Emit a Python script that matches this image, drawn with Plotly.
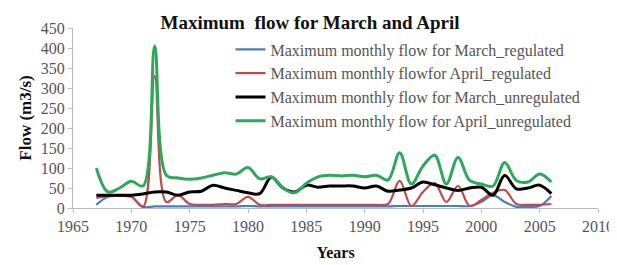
import plotly.graph_objects as go

years = list(range(1967, 2007))

march_regulated = [8, 28, 30, 28, 3, 4, 4, 4, 4, 4, 4, 4, 4, 5, 4, 4, 4, 4, 4, 4,
                   4, 4, 4, 4, 4, 4, 5, 5, 5, 5, 5, 5, 5, 15, 32, 15, 3, 3, 5, 30]
april_regulated = [25, 30, 30, 28, 3, 330, 15, 32, 10, 8, 8, 10, 10, 28, 8, 8, 8, 8, 8, 8,
                   8, 8, 8, 8, 8, 10, 68, 5, 40, 62, 15, 55, 5, 20, 38, 45, 10, 8, 8, 10]
march_unregulated = [32, 32, 32, 32, 35, 40, 40, 32, 40, 42, 57, 50, 44, 38, 36, 77, 50, 40, 57, 52,
                     55, 55, 55, 50, 55, 42, 45, 50, 65, 58, 50, 44, 50, 52, 32, 81, 48, 50, 57, 36]
april_unregulated = [100, 40, 50, 67, 55, 405, 82, 75, 72, 75, 82, 88, 85, 101, 73, 78, 50, 38, 62, 78,
                     82, 80, 82, 78, 82, 70, 138, 60, 105, 132, 60, 126, 69, 60, 55, 114, 69, 65, 85, 65]

series = [
    ("Maximum monthly flow for March_regulated", march_regulated, "#4a7ebb", 2.2),
    ("Maximum monthly flowfor April_regulated", april_regulated, "#be4b48", 2.2),
    ("Maximum monthly flow for March_unregulated", march_unregulated, "#000000", 3),
    ("Maximum monthly flow for April_unregulated", april_unregulated, "#2ea85a", 3),
]

fig = go.Figure()
for name, vals, color, w in series:
    fig.add_trace(go.Scatter(x=years, y=vals, mode="lines", name=name,
                             line=dict(color=color, width=w, shape="spline", smoothing=1.0)))

serif = "Liberation Serif, Times New Roman, serif"
fig.update_layout(
    width=609, height=257,
    margin=dict(l=65, r=19, t=17, b=57),
    paper_bgcolor="white", plot_bgcolor="white",
    font=dict(family=serif, size=16, color="#555555"),
    title=dict(text="<b>Maximum  flow for March and April</b>", x=0.496, xanchor="center",
               xref="container", y=0.945, yanchor="middle",
               font=dict(family=serif, size=19, color="#111111")),
    showlegend=True,
    legend=dict(x=0.30, y=0.975, xanchor="left", yanchor="top",
                bgcolor="rgba(0,0,0,0)", font=dict(family=serif, size=16, color="#555555"),
                tracegroupgap=0, itemwidth=30),
    xaxis=dict(range=[1965, 2010], dtick=5, tick0=1965, showgrid=False, zeroline=False,
               showline=True, linecolor="#bbbbbb", linewidth=1, ticks="outside",
               tickcolor="#bbbbbb", ticklen=4, automargin=False,
               title=dict(text="<b>Years</b>", font=dict(family=serif, size=16, color="#111111"),
                          standoff=12),
               tickfont=dict(family=serif, size=16, color="#555555")),
    yaxis=dict(range=[0, 450], dtick=50, showgrid=False, zeroline=False,
               showline=True, linecolor="#bbbbbb", linewidth=1, ticks="outside",
               tickcolor="#bbbbbb", ticklen=4,
               title=dict(text="<b>Flow (m3/s)</b>", font=dict(family=serif, size=17, color="#111111"),
                          standoff=4),
               tickfont=dict(family=serif, size=16, color="#555555")),
)

fig.write_html("out.html")
